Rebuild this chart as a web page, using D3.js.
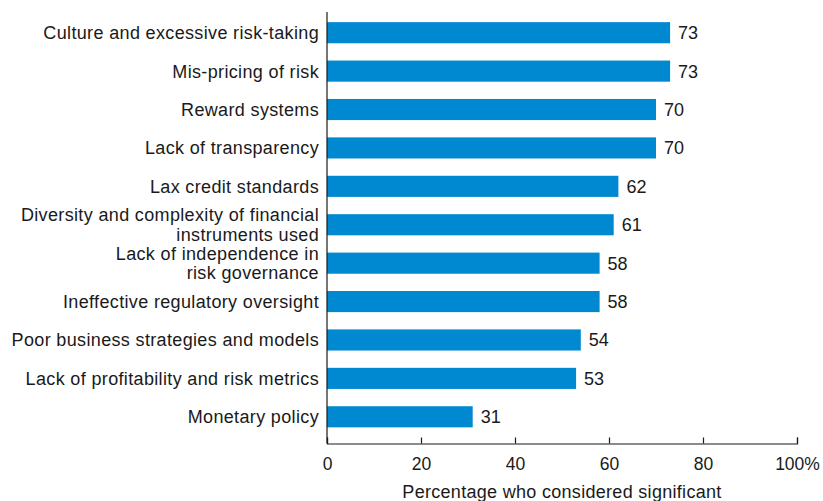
<!DOCTYPE html>
<html>
<head>
<meta charset="utf-8">
<script src="https://cdn.jsdelivr.net/npm/d3@7"></script>
<style>
  body { margin: 0; background: #fff; }
  text { font-family: "Liberation Sans", Arial, sans-serif; fill: #1a1a1a; }
</style>
</head>
<body>
<svg id="chart" width="823" height="501"></svg>
<script>
// categories (label lines) and values
const categories = [
  ["Culture and excessive risk-taking"],
  ["Mis-pricing of risk"],
  ["Reward systems"],
  ["Lack of transparency"],
  ["Lax credit standards"],
  ["Diversity and complexity of financial", "instruments used"],
  ["Lack of independence in", "risk governance"],
  ["Ineffective regulatory oversight"],
  ["Poor business strategies and models"],
  ["Lack of profitability and risk metrics"],
  ["Monetary policy"]
];
const values = [73, 73, 70, 70, 62, 61, 58, 58, 54, 53, 31];
const xTicks = [0, 20, 40, 60, 80, 100];
const xTitle = "Percentage who considered significant";

const svg = d3.select("#chart");
const barColor = "#0089d1";
const fs = 18;

const x = d3.scaleLinear().domain([0, 100]).range([327, 797]);
const y = d3.scaleBand()
  .domain(d3.range(values.length))
  .range([13.5, 436])
  .paddingInner(0.45)
  .paddingOuter(0.225);

// bars
svg.append("g")
  .selectAll("rect")
  .data(values)
  .join("rect")
  .attr("x", x(0))
  .attr("y", (d, i) => y(i))
  .attr("width", d => x(d) - x(0))
  .attr("height", y.bandwidth())
  .attr("fill", barColor);

// value labels
svg.append("g")
  .selectAll("text")
  .data(values)
  .join("text")
  .attr("x", d => x(d) + 8)
  .attr("y", (d, i) => y(i) + y.bandwidth() / 2)
  .attr("dy", "0.36em")
  .attr("font-size", 18)
  .text(d => d);

// category labels
const lineH = 19.5;
const labels = svg.append("g")
  .selectAll("text")
  .data(categories)
  .join("text")
  .attr("text-anchor", "end")
  .attr("font-size", fs)
  .attr("letter-spacing", "0.35px")
  .attr("y", (d, i) => y(i) + y.bandwidth() / 2);
labels.selectAll("tspan")
  .data(d => d.map((t, j) => ({ t, j, n: d.length })))
  .join("tspan")
  .attr("x", 319)
  .attr("dy", d => d.j === 0 ? (0.36 * fs - (d.n - 1) * lineH / 2) + "px" : lineH + "px")
  .text(d => d.t);

// y axis line
svg.append("line")
  .attr("x1", x(0)).attr("x2", x(0))
  .attr("y1", 12).attr("y2", 443.5)
  .attr("stroke", "#1a1a1a").attr("stroke-width", 1.2);

// x axis (ticks point inward)
const axis = svg.append("g")
  .attr("transform", "translate(0,443.5)")
  .call(d3.axisBottom(x).tickValues(xTicks).tickSize(-6).tickPadding(14)
    .tickFormat(d => d === 100 ? "100%" : d));
axis.select(".domain").attr("stroke", "#1a1a1a").attr("stroke-width", 1.2);
axis.selectAll(".tick line").attr("stroke", "#1a1a1a").attr("stroke-width", 1.2);
axis.selectAll(".tick text")
  .attr("font-size", 17.5)
  .attr("font-family", "Liberation Sans, Arial, sans-serif")
  .attr("fill", "#1a1a1a");

// axis title
svg.append("text")
  .attr("x", (x(0) + x(100)) / 2)
  .attr("y", 498)
  .attr("text-anchor", "middle")
  .attr("font-size", 18)
  .attr("letter-spacing", "0.3px")
  .text(xTitle);
</script>
</body>
</html>
